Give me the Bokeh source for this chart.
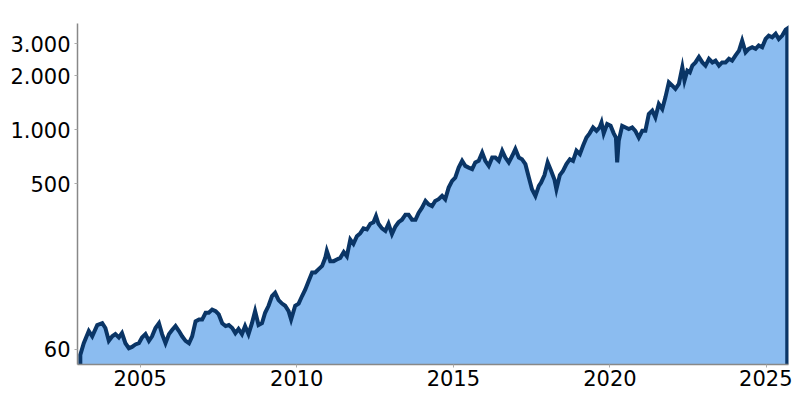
from bokeh.plotting import figure
from bokeh.models import Range1d, FixedTicker
from bokeh.embed import file_html
from bokeh.resources import INLINE

years = [2003.09, 2003.20, 2003.36, 2003.47, 2003.63, 2003.79, 2003.89, 2004.00, 2004.11, 2004.21,
         2004.32, 2004.42, 2004.53, 2004.64, 2004.74, 2004.85, 2004.96, 2005.06, 2005.17, 2005.28,
         2005.38, 2005.49, 2005.60, 2005.70, 2005.81, 2005.92, 2006.02, 2006.13, 2006.24, 2006.34,
         2006.45, 2006.56, 2006.66, 2006.77, 2006.88, 2006.98, 2007.09, 2007.19, 2007.30, 2007.41,
         2007.51, 2007.62, 2007.73, 2007.83, 2007.94, 2008.04, 2008.14, 2008.25, 2008.35, 2008.46,
         2008.57, 2008.67, 2008.78, 2008.89, 2008.99, 2009.10, 2009.21, 2009.31, 2009.42, 2009.53,
         2009.63, 2009.74, 2009.82, 2009.95, 2010.06, 2010.17, 2010.27, 2010.38, 2010.49, 2010.59,
         2010.70, 2010.81, 2010.91, 2010.96, 2011.07, 2011.18, 2011.28, 2011.39, 2011.50, 2011.60,
         2011.71, 2011.81, 2011.92, 2012.03, 2012.13, 2012.24, 2012.35, 2012.45, 2012.53, 2012.61,
         2012.72, 2012.83, 2012.93, 2013.04, 2013.15, 2013.25, 2013.36, 2013.47, 2013.57, 2013.68,
         2013.79, 2013.89, 2014.00, 2014.11, 2014.21, 2014.32, 2014.42, 2014.53, 2014.64, 2014.74,
         2014.85, 2014.96, 2015.06, 2015.17, 2015.28, 2015.38, 2015.49, 2015.60, 2015.70, 2015.81,
         2015.92, 2016.02, 2016.13, 2016.24, 2016.34, 2016.45, 2016.56, 2016.66, 2016.77, 2016.88,
         2016.98, 2017.09, 2017.19, 2017.30, 2017.41, 2017.51, 2017.62, 2017.73, 2017.80, 2017.91,
         2018.01, 2018.12, 2018.23, 2018.29, 2018.40, 2018.50, 2018.61, 2018.72, 2018.82, 2018.93,
         2019.04, 2019.14, 2019.25, 2019.35, 2019.46, 2019.57, 2019.67, 2019.73, 2019.80, 2019.91,
         2020.02, 2020.12, 2020.19, 2020.23, 2020.28, 2020.39, 2020.50, 2020.60, 2020.71, 2020.81,
         2020.92, 2021.03, 2021.13, 2021.24, 2021.35, 2021.45, 2021.56, 2021.67, 2021.77, 2021.88,
         2021.99, 2022.09, 2022.20, 2022.31, 2022.38, 2022.47, 2022.55, 2022.63, 2022.73, 2022.84,
         2022.95, 2023.05, 2023.16, 2023.27, 2023.37, 2023.48, 2023.58, 2023.69, 2023.80, 2023.90,
         2024.01, 2024.12, 2024.22, 2024.33, 2024.43, 2024.54, 2024.65, 2024.75, 2024.86, 2024.97,
         2025.07, 2025.18, 2025.29, 2025.39, 2025.50, 2025.61, 2025.66]

values = [56, 65, 76, 71, 82, 84, 79, 67, 71, 73,
          70, 74, 65, 61, 62, 64, 65, 70, 73, 67,
          71, 79, 84, 73, 65, 73, 77, 81, 76, 71,
          67, 65, 71, 86, 88, 88, 96, 96, 100, 98,
          94, 84, 81, 82, 79, 74, 78, 73, 81, 73,
          84, 98, 82, 84, 96, 105, 119, 124, 113, 108,
          105, 98, 88, 105, 108, 119, 129, 144, 161, 161,
          168, 175, 194, 212, 186, 186, 190, 194, 209, 198,
          245, 232, 256, 266, 283, 279, 300, 306, 331, 300,
          283, 274, 300, 263, 290, 306, 316, 337, 337, 316,
          316, 345, 369, 402, 385, 376, 402, 411, 429, 411,
          477, 520, 542, 616, 672, 630, 616, 604, 658, 672,
          747, 672, 630, 701, 701, 672, 764, 701, 658, 717,
          781, 701, 686, 644, 542, 467, 429, 487, 508, 560,
          658, 591, 527, 467, 560, 591, 644, 686, 672, 764,
          731, 814, 905, 955, 1030, 987, 1030, 1098, 955, 1076,
          1052, 955, 905, 658, 868, 1052, 1030, 1010, 1030, 987,
          905, 987, 987, 1222, 1276, 1171, 1390, 1305, 1515, 1836,
          1759, 1687, 1798, 2226, 1876, 2132, 2085, 2275, 2370, 2540,
          2370, 2275, 2480, 2370, 2424, 2275, 2370, 2370, 2480, 2424,
          2593, 2757, 3134, 2700, 2819, 2880, 2819, 2946, 2880, 3200,
          3340, 3270, 3420, 3200, 3340, 3600, 3650]

y_ticks = [60, 500, 1000, 2000, 3000]
y_tick_labels = ["60", "500", "1.000", "2.000", "3.000"]
x_ticks = [2005, 2010, 2015, 2020, 2025]

Y_MIN, Y_MAX = 49.5, 3900
X_MIN, X_MAX = 2003.0, 2025.70

p = figure(width=792, height=392, y_axis_type="log",
           x_range=Range1d(X_MIN, X_MAX), y_range=Range1d(Y_MIN, Y_MAX),
           output_backend="svg", toolbar_location=None,
           min_border_left=77, min_border_right=4, min_border_top=23, min_border_bottom=28)

p.varea(x=years, y1=[Y_MIN] * len(years), y2=values, fill_color="#8bbcf0")
p.line(x=[years[0]] + years + [years[-1]], y=[Y_MIN] + values + [Y_MIN],
       line_color="#0a3566", line_width=4, line_join="miter")

p.xgrid.visible = False
p.ygrid.visible = False
p.outline_line_color = None
p.background_fill_color = "white"
p.border_fill_color = "white"

p.yaxis.ticker = FixedTicker(ticks=y_ticks, minor_ticks=[])
p.yaxis.major_label_overrides = {t: l for t, l in zip(y_ticks, y_tick_labels)}
p.xaxis.ticker = FixedTicker(ticks=x_ticks, minor_ticks=[])

for ax in (p.xaxis, p.yaxis):
    ax.axis_line_color = "#888888"
    ax.axis_line_width = 1.5
    ax.major_tick_line_color = "#aaaaaa"
    ax.major_tick_in = 0
    ax.major_tick_out = 3
    ax.minor_tick_line_color = None
    ax.major_label_text_font = "DejaVu Sans"
    ax.major_label_text_font_size = "21px"
    ax.major_label_text_color = "black"

p.xaxis.major_label_standoff = 2
p.yaxis.major_label_standoff = 4

open("out.html", "w").write(file_html(p, INLINE))
